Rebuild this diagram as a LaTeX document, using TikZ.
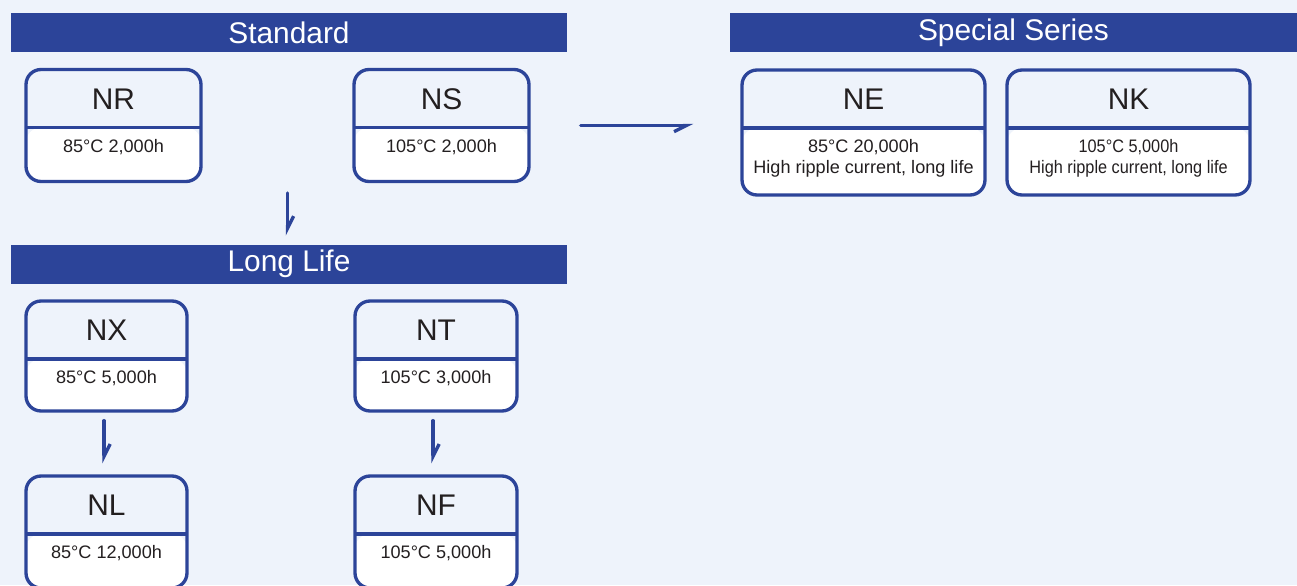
\documentclass[tikz,border=0pt]{standalone}
\usepackage{fontspec}
\setmainfont{Liberation Sans}
\newfontfamily\narrowfont[FakeStretch=0.9]{Liberation Sans}
\usepackage{tikz}
\usetikzlibrary{positioning,calc,arrows.meta}
\definecolor{bgblue}{HTML}{EEF3FB}
\definecolor{serblue}{HTML}{2C4499}
\definecolor{txtblack}{HTML}{231F20}
\tikzset{
	bar/.style={fill=serblue, text=white, inner sep=0pt, outer sep=0pt, minimum height=0.78cm, font=\fontsize{17}{20}\selectfont},
	serbox/.style={draw=serblue, line width=1.9pt, rounded corners=0.3cm, fill=bgblue, inner sep=0pt,
		path picture={
			\fill[white] ([yshift=-1.16cm]path picture bounding box.north west) rectangle (path picture bounding box.south east);
			\draw[serblue, line width=1.9pt] ([yshift=-1.16cm]path picture bounding box.north west) -- ([yshift=-1.16cm]path picture bounding box.north east);
		}},
	sertitle/.style={text=txtblack, inner sep=0pt, font=\fontsize{17}{20}\selectfont},
	sertext/.style={text=txtblack, inner sep=0pt, anchor=north, align=center, font=\fontsize{10.3}{12}\selectfont},
	harpl/.style={serblue, line width=1.9pt, line cap=round, -{Straight Barb[left, length=7pt, width=7pt]}},
	harpr/.style={serblue, line width=1.9pt, line cap=round, -{Straight Barb[right, length=7pt, width=7pt]}}
}
\begin{document}
\begin{tikzpicture}[x=0.02cm, y=-0.02cm]
	\clip (0,0) rectangle (1297,585);
	\fill[bgblue] (0,0) rectangle (1297,585);
	% bars
	\node[bar, minimum width=11.12cm] (stdbar) at (289,32.5) {Standard};
	\node[bar, minimum width=11.12cm] (longbar) at (289,264) {Long Life};
	\node[bar, minimum width=11.34cm] (specbar) at (1013.5,32.5) {Special Series};
	% standard
	\node[serbox, minimum width=3.5cm, minimum height=2.24cm] (NR) at (113.5,125.5) {};
	\node[sertitle] at ([yshift=-0.62cm]NR.north) {NR};
	\node[sertext] at ([yshift=-1.42cm]NR.north) {85°C 2,000h};
	\node[serbox, minimum width=3.5cm, minimum height=2.24cm] (NS) at (441.5,125.5) {};
	\node[sertitle] at ([yshift=-0.62cm]NS.north) {NS};
	\node[sertext] at ([yshift=-1.42cm]NS.north) {105°C 2,000h};
	% special series
	\node[serbox, minimum width=4.86cm, minimum height=2.5cm] (NE) at (863.5,132.5) {};
	\node[sertitle] at ([yshift=-0.62cm]NE.north) {NE};
	\node[sertext] at ([yshift=-1.42cm]NE.north) {85°C 20,000h\\High ripple current, long life};
	\node[serbox, minimum width=4.86cm, minimum height=2.5cm] (NK) at (1128.5,132.5) {};
	\node[sertitle] at ([yshift=-0.62cm]NK.north) {NK};
	\node[sertext, font=\fontsize{10.3}{12}\narrowfont] at ([yshift=-1.42cm]NK.north) {105°C 5,000h\\High ripple current, long life};
	% long life
	\node[serbox, minimum width=3.22cm, minimum height=2.2cm] (NX) at (106.5,356) {};
	\node[sertitle] at ([yshift=-0.62cm]NX.north) {NX};
	\node[sertext] at ([yshift=-1.42cm]NX.north) {85°C 5,000h};
	\node[serbox, minimum width=3.24cm, minimum height=2.2cm] (NT) at (436,356) {};
	\node[sertitle] at ([yshift=-0.62cm]NT.north) {NT};
	\node[sertext] at ([yshift=-1.42cm]NT.north) {105°C 3,000h};
	\node[serbox, minimum width=3.22cm, minimum height=2.24cm] (NL) at (106.5,532) {};
	\node[sertitle] at ([yshift=-0.62cm]NL.north) {NL};
	\node[sertext] at ([yshift=-1.42cm]NL.north) {85°C 12,000h};
	\node[serbox, minimum width=3.24cm, minimum height=2.24cm] (NF) at (436,532) {};
	\node[sertitle] at ([yshift=-0.62cm]NF.north) {NF};
	\node[sertext] at ([yshift=-1.42cm]NF.north) {105°C 5,000h};
	% arrows
	\coordinate (stdout) at (287.5,193);
	\draw[harpl, shorten >=0.18cm] (stdout) -- (stdout |- longbar.north);
	\draw[harpr, shorten <=1cm, shorten >=0.94cm] (NS.east) -- (NS.east -| NE.west);
	\draw[harpl, shorten <=0.16cm, shorten >=0.22cm] ([xshift=-1.4]NX.south) -- ([xshift=-1.4]NL.north);
	\draw[harpl, shorten <=0.16cm, shorten >=0.22cm] ([xshift=-1.7]NT.south) -- ([xshift=-1.7]NF.north);
\end{tikzpicture}
\end{document}
